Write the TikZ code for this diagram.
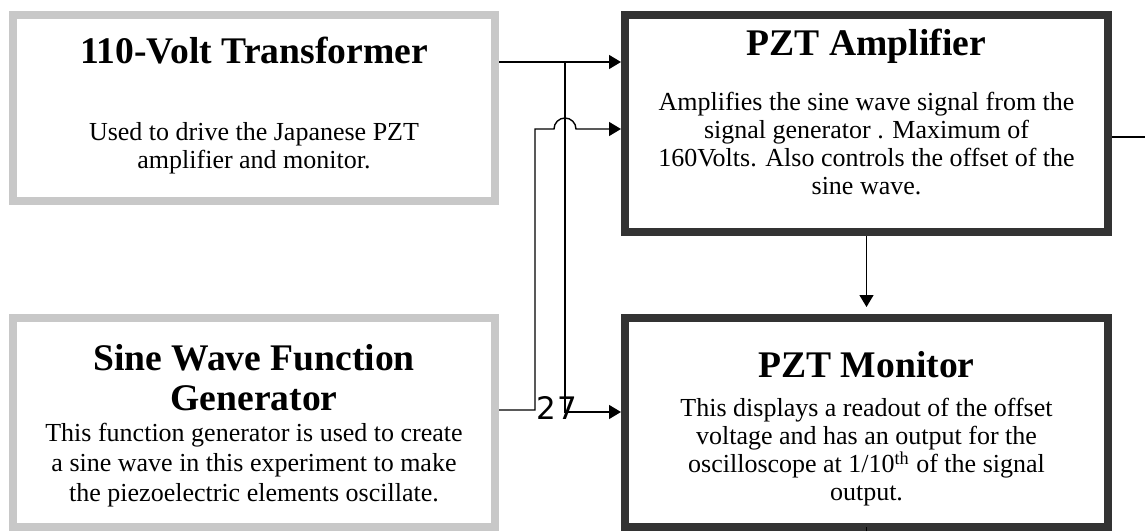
\documentclass[tikz,border=0pt]{standalone}
\usepackage{fontspec}
\setmainfont{Liberation Serif}
\newfontfamily\numfont{DejaVu Sans}
\usetikzlibrary{arrows.meta,positioning,calc}
\definecolor{boxgray}{RGB}{200,200,200}
\definecolor{boxdark}{RGB}{51,51,51}

\tikzset{
  srcbox/.style={draw=boxgray, line width=4pt, minimum width=241pt},
  pztbox/.style={draw=boxdark, line width=4pt, minimum width=241.5pt},
  boxtitle/.style={inner sep=0pt, align=center, font=\fontsize{18.8}{20}\selectfont\bfseries},
  boxtext/.style={inner sep=0pt, align=center, font=\fontsize{13}{14}\selectfont},
  wire/.style={line width=0.7pt},
  feed/.style={wire, -{Triangle[length=6pt,width=7pt]}}
}

\begin{document}
\begin{tikzpicture}[x=0.5pt, y=-0.5pt]
\useasboundingbox (0,0) rectangle (1145,531);

% the four boxes
\node[srcbox, minimum height=93pt] (tr) at (254,108) {};
\node[srcbox, minimum height=104.5pt] (sg) at (254,422.5) {};
\node[pztbox, minimum height=108.5pt] (amp) at (866.5,123.5) {};
\node[pztbox, minimum height=104.5pt] (mon) at (866.5,422.5) {};

% titles and descriptions
\node[boxtitle, below=13pt of tr.north] (trtitle) {110-Volt Transformer};
\node[boxtext, below=55.5pt of tr.north] (trtext) {Used to drive the Japanese PZT\\amplifier and monitor.};

\node[boxtitle, below=15pt of sg.north] (sgtitle) {Sine Wave Function\\Generator};
\node[boxtext, below=54.5pt of sg.north, font=\fontsize{13}{15}\selectfont] (sgtext) {This function generator is used to create\\a sine wave in this experiment to make\\the piezoelectric elements oscillate.};

\node[boxtitle, below=9pt of amp.north] (amptitle) {PZT Amplifier};
\node[boxtext, below=40.5pt of amp.north] (amptext) {Amplifies the sine wave signal from the\\signal generator . Maximum of\\160Volts. Also controls the offset of the\\sine wave.};

\node[boxtitle, below=18.5pt of mon.north] (montitle) {PZT Monitor};
\node[boxtext, below=42pt of mon.north] (montext) {This displays a readout of the offset\\voltage and has an output for the\\oscilloscope at 1/10\textsuperscript{th} of the signal\\output.};

\node[inner sep=0pt, font=\fontsize{15.5}{16}\numfont] (tag) at (557,408) {2\kern1pt 7};

% wiring
\coordinate (jn) at (565,62);
\coordinate (jd) at (565,412);
\coordinate (sa) at (535,410);
\coordinate (hop) at (565,129);
\coordinate (out) at (1145,137);

\draw[feed] (tr.east |- jn) -- (amp.west |- jn);
\draw[feed] (jn) |- (mon.west |- jd);
\draw[feed] (sg.east |- sa) -- (sa) |- ($(hop)+(-11,0)$)
  arc[start angle=180, end angle=0, radius=5.5pt] -- (amp.west |- hop);
\draw[feed, shorten >=3.5pt] (amp.south) -- (mon.north);
\draw[wire] (amp.east |- out) -- (out);
\draw[wire] (mon.south) -- ++(0,-4);
\end{tikzpicture}
\end{document}
